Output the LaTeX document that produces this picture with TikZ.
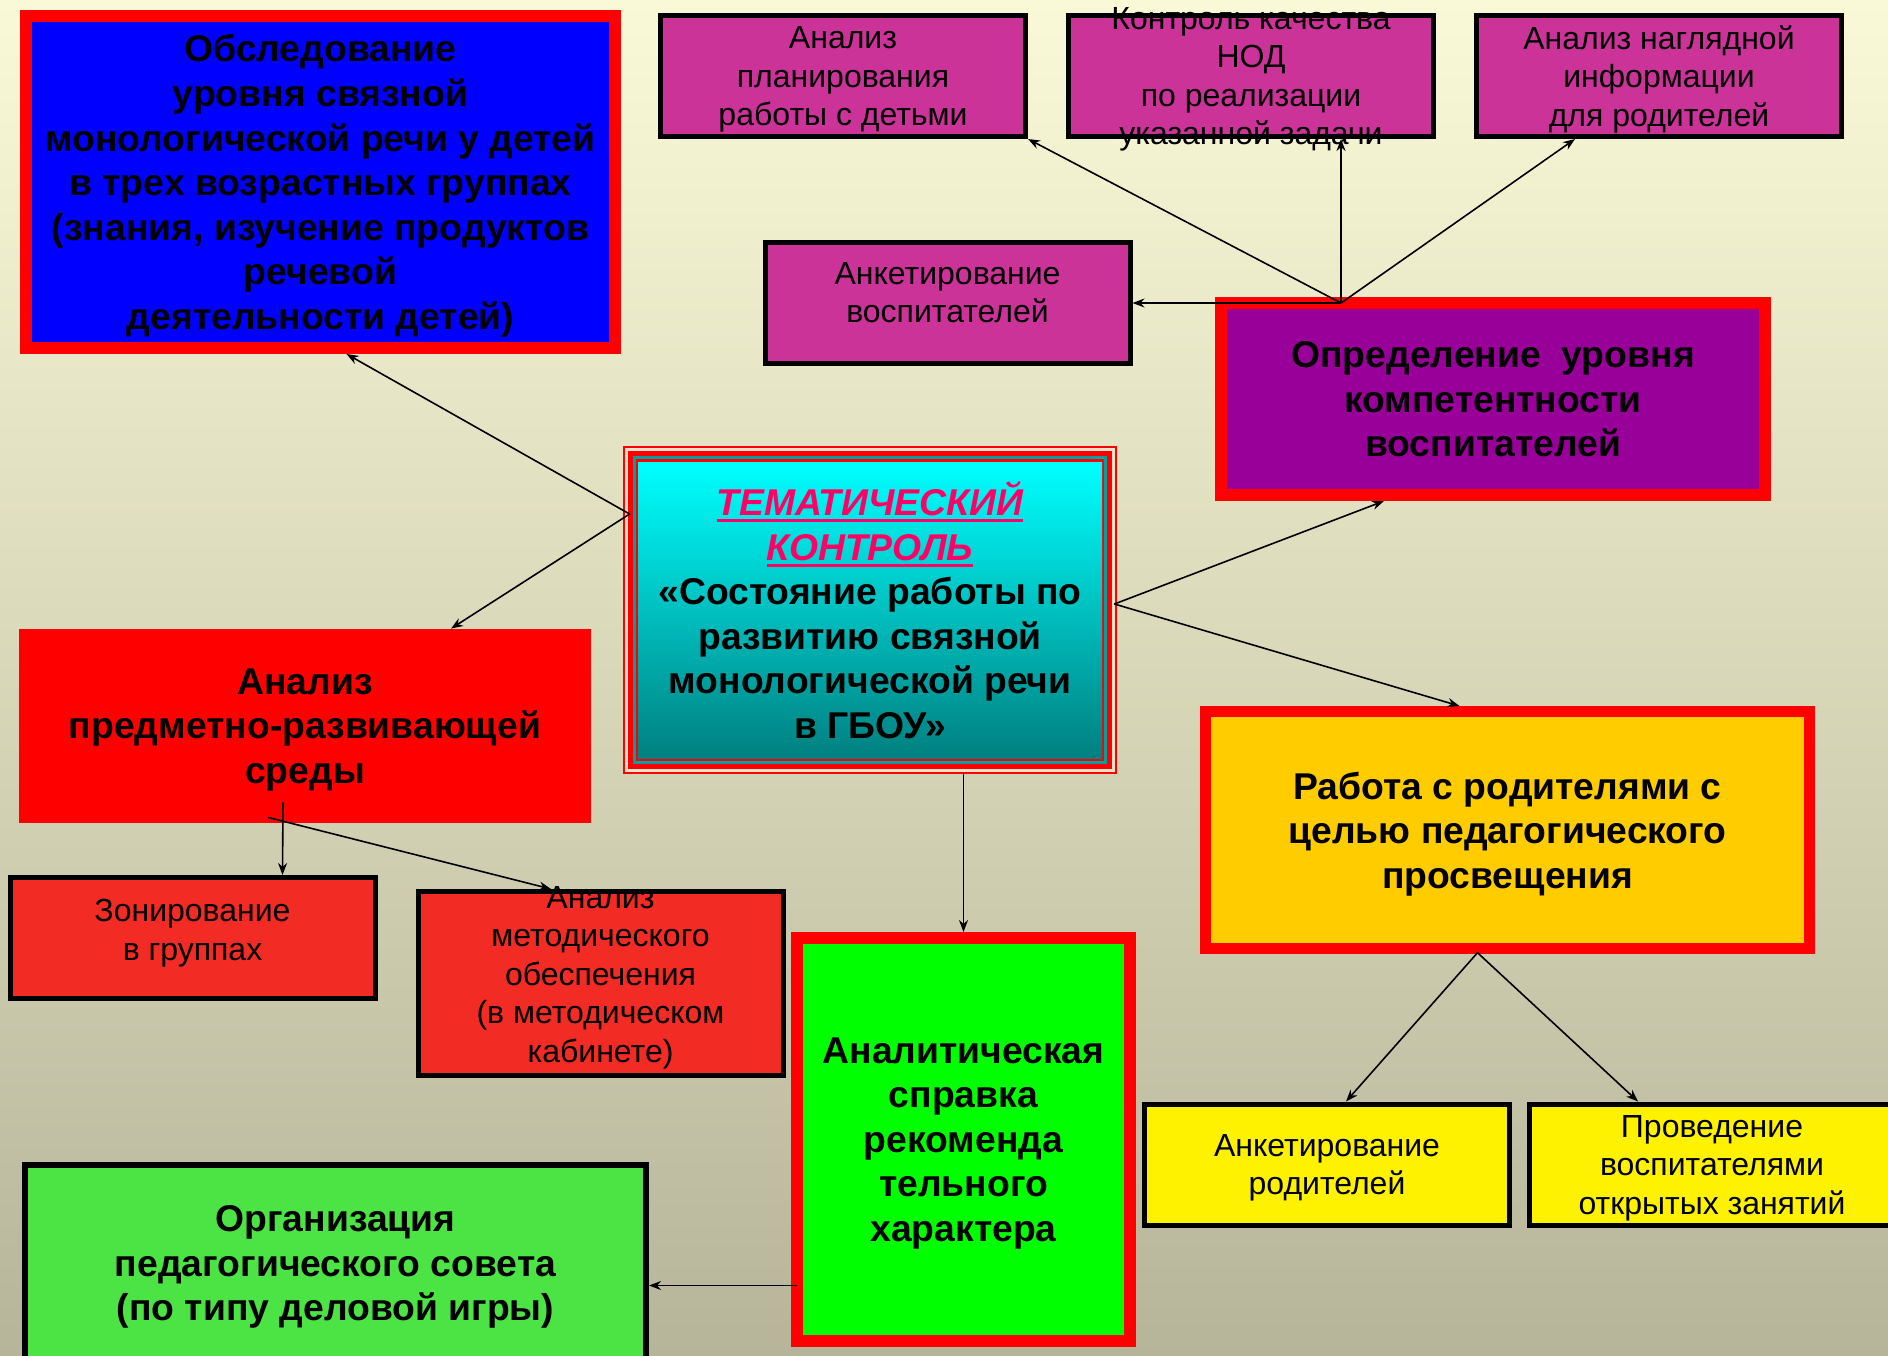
\documentclass[tikz,border=0pt]{standalone}
\usepackage{fontspec}
\setmainfont{Liberation Sans}
\usetikzlibrary{arrows.meta}
\definecolor{bgtop}{RGB}{250,249,215}
\definecolor{bgbot}{RGB}{182,181,154}
\definecolor{pinkc}{RGB}{204,51,153}
\definecolor{violc}{RGB}{153,0,153}
\definecolor{softred}{RGB}{242,43,36}
\definecolor{goldc}{RGB}{255,204,0}
\definecolor{lgreen}{RGB}{76,228,68}
\definecolor{titlec}{RGB}{255,0,102}
\definecolor{framebg}{RGB}{240,226,200}
\definecolor{tealc}{RGB}{0,160,160}
\definecolor{cyantop}{RGB}{0,255,255}
\definecolor{tealbot}{RGB}{0,128,128}
\newcommand\bigtxt{\fontsize{18.65}{22.3}\selectfont\bfseries}
\newcommand\smalltxt{\fontsize{16}{19.25}\selectfont}
\newsavebox\ulbox
\newcommand\ulthick[1]{\sbox\ulbox{#1}\leavevmode\rlap{\vrule width\wd\ulbox height -2pt depth 3.5pt}\usebox\ulbox}

\begin{document}
\begin{tikzpicture}[
        x=0.5pt, y=-0.5pt,
        every node/.style={align=center, inner sep=0pt, text depth=0pt},
        smallbox/.style={draw=black, line width=2.5pt, font=\smalltxt, minimum width=182.5pt, minimum height=60.5pt},
        pinkbox/.style={smallbox, fill=pinkc},
        redbox/.style={smallbox, fill=softred},
        yelbox/.style={smallbox, fill=yellow},
        bigbox/.style={draw=red, line width=6pt, font=\bigtxt},
        midtxt/.style={font=\smalltxt, align=center, inner sep=0pt},
        conn/.style={draw, line width=0.8pt, -{Stealth[length=6pt,width=4.5pt]}},
    ]
    \useasboundingbox (0,0) rectangle (1888,1355);
    \fill[top color=bgtop, bottom color=bgbot] (0,0) rectangle (1888,1355);

    \node[bigbox, fill=blue, minimum width=294.5pt, minimum height=166pt] (obsl) at (320.5,182)
        {Обследование\\ уровня связной\\ монологической речи у детей\\ в трех возрастных группах\\ (знания, изучение продуктов\\ речевой\\ деятельности детей)};
    \node[pinkbox] (plan) at (843,76) {Анализ\\ планирования\\ работы с детьми};
    \node[pinkbox, label={[midtxt]center:{Контроль качества\\ НОД\\ по реализации\\ указанной задачи}}] (kontrol) at (1251,76) {};
    \node[pinkbox] (naglyad) at (1659,76) {Анализ наглядной\\ информации\\ для родителей};
    \node[pinkbox, text depth=10.6pt] (anketv) at (947.5,303) {Анкетирование\\ воспитателей};
    \node[bigbox, fill=violc, minimum width=272pt, minimum height=96pt] (opred) at (1493,399)
        {Определение\ \ уровня\\ компетентности\\ воспитателей};

    \fill[red] (623,446) rectangle (1117,774);
    \fill[framebg] (625,448) rectangle (1115,772);
    \fill[red] (628,451) rectangle (1112,769);
    \fill[tealc] (633,456) rectangle (1107,764);
    \fill[red] (636,459) rectangle (1104,761);
    \node[top color=cyantop, bottom color=tealbot, font=\bigtxt, minimum width=232pt, minimum height=148pt] (cbox) at (870,610)
        {\textcolor{titlec}{\itshape\ulthick{ТЕМАТИЧЕСКИЙ}}\\ \textcolor{titlec}{\itshape\ulthick{КОНТРОЛЬ}}\\ «Состояние работы по\\ развитию связной\\ монологической речи\\ в ГБОУ»};

    \node[fill=red, font=\bigtxt, minimum width=286pt, minimum height=97pt] (predm) at (305,726)
        {Анализ\\ предметно-развивающей\\ среды};
    \node[redbox, text depth=8.2pt] (zonir) at (192.5,938) {Зонирование\\ в группах};
    \node[redbox, minimum height=92pt, label={[midtxt,yshift=4.75pt]center:{Анализ\\ методического\\ обеспечения\\ (в методическом\\ кабинете)}}] (metod) at (600.5,983.5) {};
    \node[bigbox, fill=green, minimum width=166.5pt, minimum height=201.5pt] (spravka) at (963.5,1139.5)
        {Аналитическая\\ справка\\ рекоменда\\ тельного\\ характера};
    \node[bigbox, line width=5.5pt, fill=goldc, minimum width=302pt, minimum height=118.5pt] (rabota) at (1507.5,830)
        {Работа с родителями с\\ целью педагогического\\ просвещения};
    \node[yelbox] (anketr) at (1327,1164.5) {Анкетирование\\ родителей};
    \node[yelbox] (proved) at (1712,1164.5) {Проведение\\ воспитателями\\ открытых занятий};
    \node[draw=black, line width=3pt, fill=lgreen, font=\bigtxt, minimum width=310.5pt, minimum height=98pt] (org) at (335.5,1263)
        {Организация\\ педагогического совета\\ (по типу деловой игры)};

    \coordinate (cl) at ([xshift=-4pt,yshift=48pt]cbox.west);
    \coordinate (cr) at ([xshift=6pt,yshift=3pt]cbox.east);
    \coordinate (cb) at ([yshift=-7pt]cbox.south);
    \coordinate (ot) at ([xshift=-76pt,yshift=-3pt]opred.north);
    \coordinate (rb) at ([xshift=-15pt,yshift=0.65pt]rabota.south);
    \coordinate (pv) at ([xshift=-11pt,yshift=10.5pt]predm.south);
    \coordinate (pd) at ([xshift=-18.5pt,yshift=3pt]predm.south);
    \coordinate (sl) at ([xshift=3pt,yshift=-73pt]spravka.west);

    \draw[conn] (cl) -- ([xshift=13pt]obsl.south);
    \draw[conn] (cl) -- ([xshift=73pt]predm.north);
    \draw[conn] (cr) -- ([xshift=-54.5pt]opred.south);
    \draw[conn] (cr) -- ([xshift=-24pt]rabota.north);
    \draw[conn] (cb -| spravka.north) -- (spravka.north);
    \draw[conn] (ot) -- (plan.south east);
    \draw[conn] (ot) -- ([xshift=45pt]kontrol.south);
    \draw[conn] (ot) -- ([xshift=-42pt]naglyad.south);
    \draw[conn] (ot) -- (anketv.east);
    \draw[conn] (pv) -- ([xshift=45pt]zonir.north);
    \draw[conn] (pd) -- ([xshift=-24.75pt]metod.north);
    \draw[conn] (sl) -- (sl -| org.east);
    \draw[conn] (rb) -- ([xshift=9.5pt]anketr.north);
    \draw[conn] (rb) -- ([xshift=-37pt]proved.north);
\end{tikzpicture}
\end{document}
